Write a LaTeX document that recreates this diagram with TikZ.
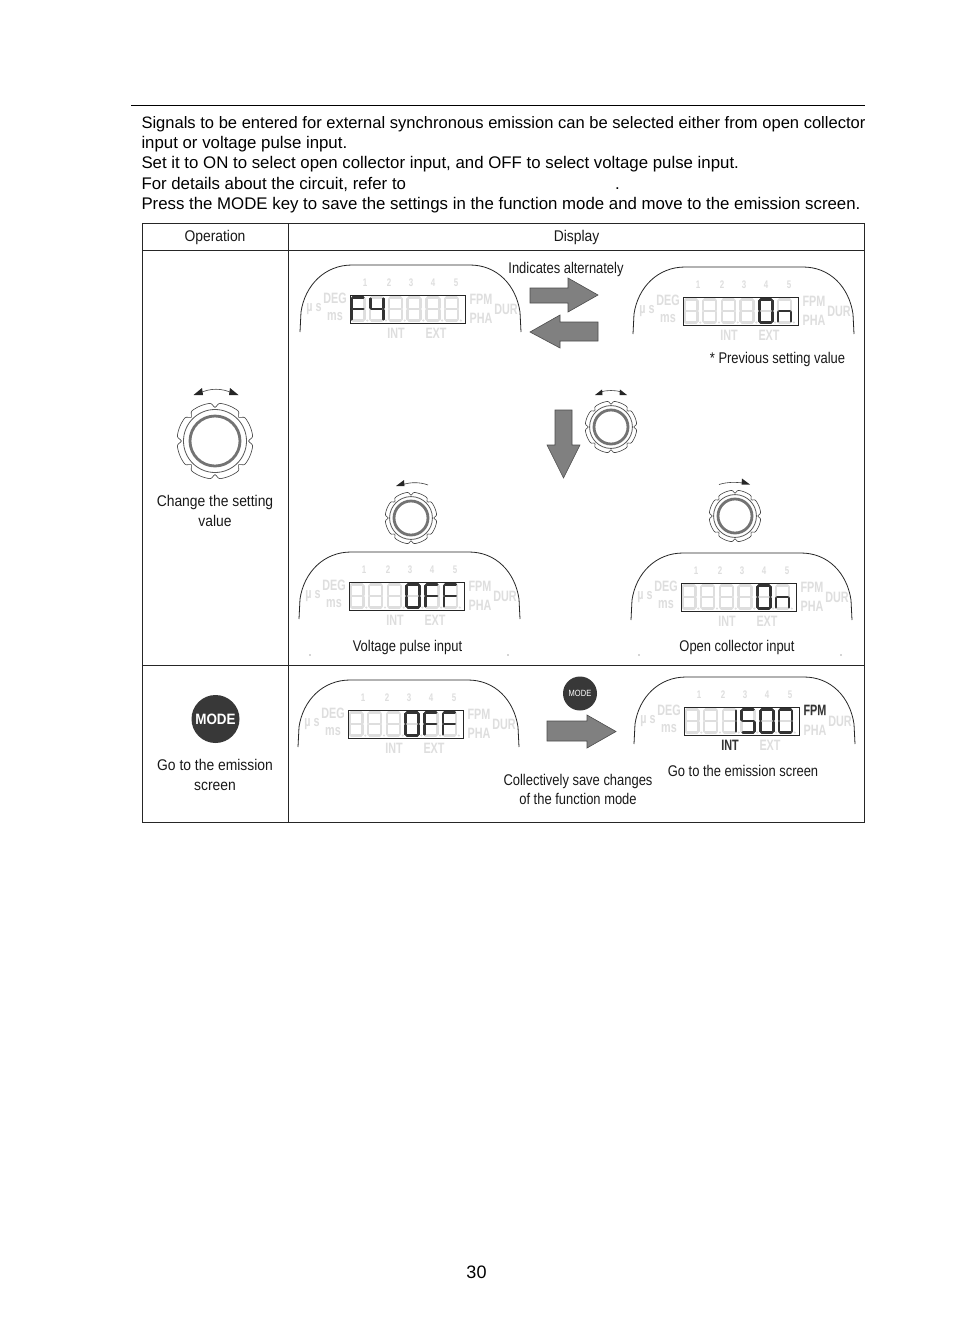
\documentclass[tikz,border=0pt]{standalone}
\usepackage{fontspec}
\setmainfont{Liberation Sans}
\newfontfamily\narrowf[FakeStretch=0.835]{Liberation Sans}
\newfontfamily\widerf[FakeStretch=0.895]{Liberation Sans}
\newfontfamily\ghostf[FakeStretch=0.72]{Liberation Sans}
\colorlet{ghost}{black!13}
\colorlet{lcddark}{black!80}
\colorlet{bigarrow}{black!50}
\tikzset{
  body/.style={anchor=base west,inner sep=0,font=\fontsize{16.82}{16.82}\selectfont},
  bodyfirst/.style={body,font=\fontsize{16.55}{16.55}\selectfont},
  lab/.style={inner sep=0,align=center,font=\narrowf\fontsize{15.5}{18.5}\selectfont,text=black!90},
  lablarge/.style={inner sep=0,align=center,font=\widerf\fontsize{15.5}{19.3}\selectfont,text=black!90},
  glab/.style={inner sep=0,text=ghost,font=\ghostf\bfseries\fontsize{15}{15}\selectfont},
  gnum/.style={inner sep=0,text=ghost,font=\ghostf\bfseries\fontsize{11}{11}\selectfont},
  onlab/.style={glab,text=lcddark},
  frameline/.style={line width=0.8pt,black!85},
  ghostseg/.style={line width=2.5pt,ghost,line cap=round},
  darkseg/.style={line width=2.8pt,lcddark,line cap=round},
  blockarrow/.style={fill=bigarrow,draw=black!70,line width=0.6pt,line join=miter},
  knobline/.style={line width=0.6pt,black!75},
  modebtn/.style={circle,fill=black!78,inner sep=0,text=white},
}
\def\sga{(1.2,0)--(11.8,0)}
\def\sgb{(13,1.2)--(13,10.5)}
\def\sgc{(13,12.5)--(13,21.8)}
\def\sgd{(1.2,23)--(11.8,23)}
\def\sge{(0,12.5)--(0,21.8)}
\def\sgf{(0,1.2)--(0,10.5)}
\def\sgg{(1.2,11.5)--(11.8,11.5)}
% #1 digit position, #2 style, #3 segments
\newcommand{\lcddigit}[3]{%
  \begin{scope}[xshift=#1*18.7pt]
    \foreach \s in {#3}{\draw[#2] \csname sg\s\endcsname;}
  \end{scope}}
% #1,#2 shift relative to the first panel
\newcommand{\lcdpanel}[2]{%
  \begin{scope}[shift={(#1,#2)}]
    \draw[line width=0.8pt,black!85] (300,332) -- (301,312)
      .. controls (305,285) and (325,265) .. (352,265) -- (470,265)
      .. controls (497,265) and (516,285) .. (520,312) -- (521,332);
    \node[gnum] (n1) at (365,283) {1};
    \node[gnum] (n2) at (389,283) {2};
    \node[gnum] (n3) at (411,283) {3};
    \node[gnum] (n4) at (433,283) {4};
    \node[gnum] (n5) at (456,283) {5};
    \node[glab] (us) at (314,309) {µ s};
    \node[glab] (deg) at (335,298) {DEG};
    \node[glab] (ms) at (335,317) {ms};
    \node[glab] (fpm) at (481,299) {FPM};
    \node[glab] (pha) at (481,318) {PHA};
    \node[glab] (dur) at (506,309) {DUR};
    \node[glab] (int) at (396,333.5) {INT};
    \node[glab] (ext) at (436,333.5) {EXT};
    \begin{scope}[shift={(351.5,297.5)}]
      \foreach \p in {0,...,5}{
        \lcddigit{\p}{ghostseg}{a,b,c,d,e,f,g}
        \fill[ghost] (\p*18.7+15.8,23) circle (1.2);
      }
    \end{scope}
    \draw[line width=0.8pt,black!85] (350,295.5) rectangle (465,323.5);
  \end{scope}}
% #1,#2 shift relative to the first panel, #3 code drawing digits
\newcommand{\lcdtext}[3]{%
  \begin{scope}[shift={(351.5+#1,297.5+#2)}]#3\end{scope}}
% #1,#2 centre #3 scale
\newcommand{\knob}[3]{%
  \begin{scope}[shift={(#1,#2)},scale=#3]
    \draw[knobline] plot[smooth,samples=145,domain=0:360,variable=\t]
      ({(38-4.5*pow(max(0,cos(8*(\t-90))),6))*cos(\t)},
       {(38-4.5*pow(max(0,cos(8*(\t-90))),6))*sin(\t)}) -- cycle;
    \draw[line width=0.8pt,black!65] (0,0) circle (31.5);
    \draw[line width=2.8pt,black!55] (0,0) circle (25);
  \end{scope}}
\begin{document}
\begin{tikzpicture}[x=1pt,y=-1pt]
\useasboundingbox (0,0) rectangle (954,1342);
\fill[white] (0,0) rectangle (954,1342);
% rule and body text
\coordinate (ruleL) at (131,105.5);
\coordinate (ruleR) at (865,105.5);
\draw[line width=0.7pt] (ruleL) -- (ruleR);
\node[bodyfirst] (t1) at (141.3,128) {Signals to be entered for external synchronous emission can be selected either from open collector};
\node[body] (t2) at (141.3,148) {input or voltage pulse input.};
\node[body] (t3) at (141.3,168) {Set it to ON to select open collector input, and OFF to select voltage pulse input.};
\node[body] (t4) at (141.3,189) {For details about the circuit, refer to};
\node[body] (t4b) at (615,189) {.};
\node[body] (t5) at (141.3,209) {Press the MODE key to save the settings in the function mode and move to the emission screen.};
% table
\coordinate (tl) at (142,223);
\coordinate (br) at (864,822.5);
\draw[frameline] (tl) rectangle (br);
\draw[frameline] (142,250) -- (864,250);
\draw[frameline] (142,665) -- (864,665);
\draw[frameline] (288,223) -- (288,822.5);
\node[lablarge] (op) at (215,237) {Operation};
\node[lablarge] (disp) at (576.5,237) {Display};
% left column
\knob{215}{441}{1}
\draw[knobline] (200,393) .. controls (210,388) and (222,388) .. (232,393);
\fill[black!85] (193.5,395) -- (202,388) -- (203,395) -- cycle;
\fill[black!85] (238.5,395) -- (230,388) -- (229,395) -- cycle;
\node[lablarge] (change) at (215,511) {Change the setting\\value};
\node[modebtn,minimum size=48pt] (mode1) at (215.5,719) {\widerf\bfseries\fontsize{15}{15}\selectfont MODE};
\node[lablarge] (goto1) at (215,775) {Go to the emission\\screen};
% panels
\lcdpanel{0}{0}
\lcdtext{0}{0}{\lcddigit{0}{darkseg}{a,e,f,g}\lcddigit{1}{darkseg}{b,c,f,g}}
\lcdpanel{333}{2}
\lcdtext{333}{2}{\lcddigit{4}{darkseg}{a,b,c,d,e,f}\lcddigit{5}{darkseg}{c,e,g}}
\lcdpanel{-1}{287}
\lcdtext{-1}{287}{\lcddigit{3}{darkseg}{a,b,c,d,e,f}\lcddigit{4}{darkseg}{a,e,f,g}\lcddigit{5}{darkseg}{a,e,f,g}}
\lcdpanel{331}{288}
\lcdtext{331}{288}{\lcddigit{4}{darkseg}{a,b,c,d,e,f}\lcddigit{5}{darkseg}{c,e,g}}
\lcdpanel{-2}{415}
\lcdtext{-2}{415}{\lcddigit{3}{darkseg}{a,b,c,d,e,f}\lcddigit{4}{darkseg}{a,e,f,g}\lcddigit{5}{darkseg}{a,e,f,g}}
\lcdpanel{334}{412}
\lcdtext{334}{412}{\lcddigit{2}{darkseg}{b,c}\lcddigit{3}{darkseg}{a,c,d,f,g}\lcddigit{4}{darkseg}{a,b,c,d,e,f}\lcddigit{5}{darkseg}{a,b,c,d,e,f}}
\node[onlab] (fpmon) at (815,710.5) {FPM};
\node[onlab] (inton) at (730,745.5) {INT};
% block arrows
\draw[blockarrow] (530,288) -- (568,288) -- (568,278) -- (598,295) -- (568,312) -- (568,303) -- (530,303) -- cycle;
\draw[blockarrow] (598,322) -- (560,322) -- (560,315) -- (530,332) -- (560,348) -- (560,341) -- (598,341) -- cycle;
\draw[blockarrow] (555,410) -- (572,410) -- (572,445) -- (580,445) -- (563.5,478) -- (547,445) -- (555,445) -- cycle;
\draw[blockarrow] (547,721) -- (587,721) -- (587,715) -- (616,731.5) -- (587,748) -- (587,741) -- (547,741) -- cycle;
% small knobs
\knob{611}{427}{0.68}
\draw[knobline] (600,392) .. controls (607,390) and (615,390) .. (622,392);
\fill[black!85] (595,395) -- (602,389.5) -- (602.5,395) -- cycle;
\fill[black!85] (627,395) -- (620,389.5) -- (619.5,395) -- cycle;
\knob{411}{518}{0.68}
\draw[knobline] (403,484.5) .. controls (411,482) and (420,482) .. (428,485);
\fill[black!85] (396,486) -- (404,480) -- (404.5,486) -- cycle;
\knob{735}{516}{0.68}
\draw[knobline] (719,484.5) .. controls (727,482) and (735,482) .. (743,483);
\fill[black!85] (750,484.5) -- (742,478.5) -- (741.5,484.5) -- cycle;
\node[modebtn,minimum size=34pt] (mode2) at (580,693.5) {\narrowf\fontsize{9}{9}\selectfont MODE};
% labels
\node[lab] (alt) at (566,269) {Indicates alternately};
\node[lab] (prev) at (777.5,359) {* Previous setting value};
\node[lab] (volt) at (407.5,647) {Voltage pulse input};
\node[lab] (open) at (737,647) {Open collector input};
\node[lab] (save) at (578,789.5) {Collectively save changes\\of the function mode};
\node[lab] (goto2) at (743,771) {Go to the emission screen};
\foreach \x/\n in {310/a,508/b,639/c,841/d}{\coordinate (sp\n) at (\x,655); \fill[black!70] (sp\n) circle (0.6);}
\node[inner sep=0,font=\fontsize{18}{18}\selectfont] (page) at (476.5,1272.5) {30};
\end{tikzpicture}
\end{document}
